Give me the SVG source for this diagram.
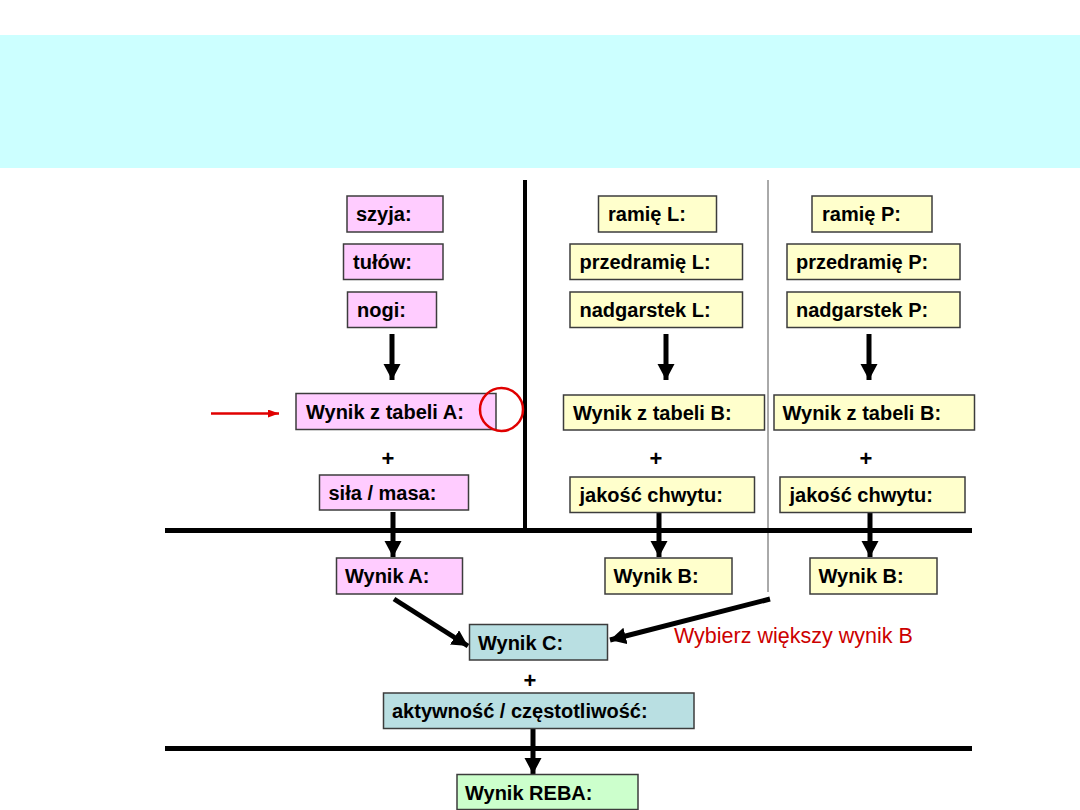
<svg xmlns="http://www.w3.org/2000/svg" width="1080" height="810" viewBox="0 0 1080 810">
<style>
.b{stroke:#3c3c3c;stroke-width:1.5}
.pk{fill:#FFCCFF}
.yl{fill:#FFFFCC}
.tl{fill:#B9DFE2}
.gr{fill:#CCFFCC}
text{font-family:"Liberation Sans",Arial,sans-serif;font-weight:bold;font-size:20px;fill:#000}
.plus{font-size:22px}
.red{font-weight:normal;fill:#CC0000;font-size:21.5px}
.thick{stroke:#000;stroke-width:5;fill:none}
.arr{stroke:#000;stroke-width:5;fill:none;marker-end:url(#ah)}
</style>
<defs>
<marker id="ah" markerUnits="userSpaceOnUse" markerWidth="18" markerHeight="18" refX="16" refY="8.5" orient="auto">
<path d="M0,0 L16,8.5 L0,17 Z" fill="#000"/>
</marker>
<marker id="rh" markerUnits="userSpaceOnUse" markerWidth="12" markerHeight="10" refX="11" refY="4" orient="auto">
<path d="M0,0 L11,4 L0,8 Z" fill="#E00000"/>
</marker>
</defs>
<rect x="0" y="35" width="1080" height="133" fill="#CCFFFF"/>
<g id="dividers">
<line x1="525" y1="180" x2="525" y2="530" class="thick" style="stroke-width:4"/>
<line x1="768" y1="180" x2="768" y2="592" stroke="#555" stroke-width="1"/>
<line x1="165" y1="530.5" x2="972" y2="530.5" class="thick"/>
<line x1="165" y1="748.5" x2="972" y2="748.5" class="thick"/>
</g>
<g id="connectors">
<line x1="392" y1="334" x2="392" y2="380" class="arr"/>
<line x1="666" y1="334" x2="666" y2="380" class="arr"/>
<line x1="869" y1="334" x2="869" y2="380" class="arr"/>
<line x1="393" y1="512" x2="393" y2="557" class="arr"/>
<line x1="659" y1="512" x2="659" y2="557" class="arr"/>
<line x1="870" y1="512" x2="870" y2="557" class="arr"/>
<line x1="394" y1="599" x2="468" y2="646" class="arr"/>
<line x1="770" y1="599" x2="610" y2="640" class="arr"/>
<line x1="533" y1="728" x2="533" y2="774" class="arr"/>
<line x1="211" y1="413.5" x2="279" y2="413.5" stroke="#E00000" stroke-width="2.5" marker-end="url(#rh)"/>
</g>
<g id="n-szyja"><rect class="b pk" x="347" y="196" width="96" height="36"/><text x="356" y="221">szyja:</text></g>
<g id="n-tulow"><rect class="b pk" x="343.5" y="244" width="99.5" height="35.5"/><text x="353" y="269">tułów:</text></g>
<g id="n-nogi"><rect class="b pk" x="347.5" y="292" width="89" height="35.5"/><text x="357" y="317">nogi:</text></g>
<g id="n-tabA"><rect class="b pk" x="296" y="393.5" width="200" height="36"/><text x="306" y="418.5">Wynik z tabeli A:</text></g>
<g id="n-sila"><rect class="b pk" x="319.5" y="475" width="149" height="35"/><text x="328.5" y="500">siła / masa:</text></g>
<g id="n-ramieL"><rect class="b yl" x="598.5" y="196" width="118" height="36"/><text x="608" y="221">ramię L:</text></g>
<g id="n-przedL"><rect class="b yl" x="570" y="244" width="172.5" height="35.5"/><text x="579.5" y="269">przedramię L:</text></g>
<g id="n-nadgL"><rect class="b yl" x="570" y="292" width="172.5" height="35.5"/><text x="579.5" y="317">nadgarstek L:</text></g>
<g id="n-tabBL"><rect class="b yl" x="563.5" y="395" width="201" height="35"/><text x="573" y="420">Wynik z tabeli B:</text></g>
<g id="n-chwytL"><rect class="b yl" x="570" y="477" width="184.5" height="35.5"/><text x="579.5" y="502">jakość chwytu:</text></g>
<g id="n-ramieP"><rect class="b yl" x="812" y="196" width="120" height="36"/><text x="822" y="221">ramię P:</text></g>
<g id="n-przedP"><rect class="b yl" x="787" y="244" width="173" height="35.5"/><text x="796" y="269">przedramię P:</text></g>
<g id="n-nadgP"><rect class="b yl" x="787" y="292" width="173" height="35.5"/><text x="796" y="317">nadgarstek P:</text></g>
<g id="n-tabBP"><rect class="b yl" x="774" y="395" width="200.5" height="35"/><text x="782.5" y="420">Wynik z tabeli B:</text></g>
<g id="n-chwytP"><rect class="b yl" x="780" y="477" width="185" height="35.5"/><text x="789.5" y="502">jakość chwytu:</text></g>
<g id="n-wynikA"><rect class="b pk" x="336.5" y="558" width="126" height="36"/><text x="345" y="583">Wynik A:</text></g>
<g id="n-wynikBL"><rect class="b yl" x="605" y="558" width="127" height="36"/><text x="613.5" y="583">Wynik B:</text></g>
<g id="n-wynikBP"><rect class="b yl" x="810" y="558" width="127" height="36"/><text x="818.5" y="583">Wynik B:</text></g>
<g id="n-wynikC"><rect class="b tl" x="469.5" y="624.5" width="138" height="35.5"/><text x="478" y="650">Wynik C:</text></g>
<g id="n-aktyw"><rect class="b tl" x="383.5" y="693" width="310.5" height="35.5"/><text x="392" y="718">aktywność / częstotliwość:</text></g>
<g id="n-reba"><rect class="b gr" x="457" y="774.5" width="181" height="35"/><text x="465" y="800">Wynik REBA:</text></g>
<g id="plus-signs">
<text class="plus" x="388" y="466" text-anchor="middle">+</text>
<text class="plus" x="656" y="466" text-anchor="middle">+</text>
<text class="plus" x="866" y="466" text-anchor="middle">+</text>
<text class="plus" x="530" y="688" text-anchor="middle">+</text>
</g>
<g id="annotations">
<circle cx="501.5" cy="409.5" r="21.5" fill="none" stroke="#E00000" stroke-width="2.5"/>
<text class="red" x="674" y="643">Wybierz większy wynik B</text>
</g>
</svg>
